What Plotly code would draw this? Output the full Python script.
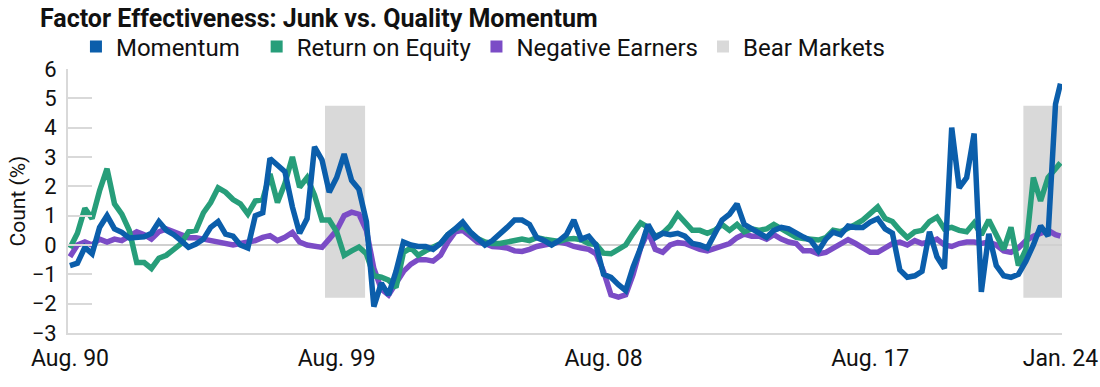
import plotly.graph_objects as go
import pandas as pd

# Quarterly observation dates (Aug 1990 ... Nov 2023) plus final Jan 2024
dates = [d.strftime("%Y-%m-%d") for d in pd.date_range("1990-08-01", periods=134, freq="3MS")] + ["2024-01-01"]

momentum = [-0.7, -0.62, -0.08, -0.3, 0.6, 1.0, 0.55, 0.43, 0.24, 0.24,
            0.28, 0.4, 0.8, 0.5, 0.35, 0.15, -0.08, 0.03, 0.2, 0.6,
            0.8, 0.37, 0.3, 0.0, -0.1, 1.0, 1.1, 2.95, 2.75, 2.5,
            1.3, 0.4, 0.9, 3.35, 2.9, 1.8, 2.3, 3.1, 2.2, 1.9,
            0.8, -2.1, -1.3, -1.7, -0.9, 0.1, 0.0, -0.05, -0.05, -0.15,
            0.05, 0.35, 0.55, 0.78, 0.45, 0.2, 0.0, 0.15, 0.35, 0.6,
            0.85, 0.85, 0.7, 0.25, 0.15, 0.0, 0.15, 0.35, 0.85, 0.2,
            0.3, 0.0, -1.0, -1.1, -1.35, -1.55, -0.75, -0.1, 0.7, 0.25,
            0.4, 0.35, 0.4, 0.3, 0.05, 0.0, -0.1, 0.4, 0.85, 1.05,
            1.4, 0.7, 0.55, 0.45, 0.26, 0.5, 0.6, 0.55, 0.38, 0.27,
            0.15, -0.2, 0.2, 0.44, 0.35, 0.65, 0.6, 0.6, 0.78, 0.9,
            0.55, 0.4, -0.85, -1.1, -1.05, -0.9, 0.45, -0.4, -0.8, 4.0,
            1.95, 2.3, 3.8, -1.6, 0.38, -0.7, -1.05, -1.1, -1.0, -0.55,
            0.0, 0.65, 0.3, 4.8, 5.5]

return_on_equity = [-0.1, 0.4, 1.25, 0.9, 1.85, 2.6, 1.4, 1.05, 0.5, -0.6,
                    -0.6, -0.8, -0.45, -0.35, -0.15, 0.05, 0.45, 0.5, 1.1, 1.45,
                    1.95, 1.8, 1.55, 1.4, 1.06, 1.5, 1.55, 2.42, 1.45, 2.1,
                    3.0, 1.97, 2.3, 1.7, 0.85, 0.85, 0.45, -0.35, -0.2, -0.07,
                    -0.3, -1.05, -1.1, -1.2, -1.45, -0.25, -0.1, -0.35, -0.2, -0.1,
                    0.05, 0.35, 0.55, 0.65, 0.4, 0.22, 0.1, 0.05, 0.05, 0.1,
                    0.12, 0.2, 0.15, 0.25, 0.2, 0.15, 0.12, 0.2, 0.22, 0.18,
                    0.05, 0.02, -0.28, -0.3, -0.15, 0.0, 0.4, 0.75, 0.6, 0.3,
                    0.4, 0.65, 1.05, 0.75, 0.5, 0.5, 0.4, 0.5, 0.7, 0.5,
                    0.7, 0.45, 0.55, 0.5, 0.55, 0.7, 0.55, 0.45, 0.26, 0.22,
                    0.2, 0.17, 0.25, 0.5, 0.45, 0.55, 0.7, 0.85, 1.1, 1.3,
                    0.9, 0.8, 0.5, 0.25, 0.45, 0.5, 0.8, 0.95, 0.55, 0.6,
                    0.5, 0.45, 0.75, 0.35, 0.85, 0.35, -0.15, 0.6, -0.7, -0.15,
                    2.3, 1.5, 2.3, 2.6, 2.8]

negative_earners = [-0.4, 0.0, 0.1, 0.0, 0.2, 0.1, 0.2, 0.15, 0.3, 0.45,
                    0.35, 0.2, 0.45, 0.55, 0.45, 0.35, 0.25, 0.25, 0.2, 0.15,
                    0.1, 0.05, 0.0, 0.05, 0.1, 0.15, 0.26, 0.32, 0.15, 0.26,
                    0.43, 0.1, 0.0, -0.05, -0.08, 0.2, 0.5, 1.0, 1.12, 1.05,
                    0.5, -0.8, -1.5, -1.7, -1.3, -0.9, -0.65, -0.5, -0.5, -0.55,
                    -0.35, 0.1, 0.45, 0.5, 0.3, 0.1, 0.05, -0.05, -0.07, -0.1,
                    -0.2, -0.22, -0.15, -0.05, 0.0, 0.05, 0.1, 0.05, -0.05, -0.1,
                    -0.15, -0.3, -0.9, -1.7, -1.78, -1.7, -1.0, -0.1, 0.45, -0.15,
                    -0.25, 0.0, 0.08, 0.05, -0.05, -0.15, -0.2, -0.12, -0.08, 0.05,
                    0.25, 0.37, 0.3, 0.3, 0.2, 0.35, 0.2, 0.1, 0.05, -0.2,
                    -0.2, -0.3, -0.25, -0.1, 0.0, 0.18, 0.05, -0.1, -0.25, -0.25,
                    -0.1, 0.05, 0.1, 0.0, 0.15, 0.05, 0.1, 0.2, 0.0, -0.05,
                    0.05, 0.1, 0.1, 0.05, 0.1, 0.0, -0.2, -0.25, -0.1, 0.15,
                    0.3, 0.42, 0.5, 0.35, 0.3]

bear_starts = ["1999-03-10", "2022-10-01"]
bear_ends = ["2000-07-16", "2024-01-20"]
bear_low, bear_high = -1.8, 4.75

tick_dates = ["1990-08-01", "1999-08-01", "2008-08-01", "2017-08-01", "2024-01-01"]
tick_labels = ["Aug. 90", "Aug. 99", "Aug. 08", "Aug. 17", "Jan. 24"]

C_MOM = "#0b5eab"
C_ROE = "#279e7a"
C_NEG = "#7b4cc6"
C_BEAR = "#d9d9d9"

fig = go.Figure()

shapes = [dict(type="rect", xref="x", yref="y", x0=s, x1=e, y0=bear_low, y1=bear_high,
               fillcolor=C_BEAR, line=dict(width=0), layer="below")
          for s, e in zip(bear_starts, bear_ends)]

for name, vals, col in [("Negative Earners", negative_earners, C_NEG),
                        ("Return on Equity", return_on_equity, C_ROE),
                        ("Momentum", momentum, C_MOM)]:
    fig.add_trace(go.Scatter(x=dates, y=vals, mode="lines", name=name,
                             line=dict(color=col, width=5.5), showlegend=False))

NB = "\u00a0"
for name, col in [("Momentum" + NB * 2, C_MOM), ("Return on Equity", C_ROE),
                  ("Negative Earners", C_NEG), ("Bear Markets", C_BEAR)]:
    fig.add_trace(go.Scatter(x=[None], y=[None], mode="markers", name=name,
                             marker=dict(symbol="square", size=12, color=col)))

fig.update_layout(
    width=1100, height=387,
    margin=dict(l=68, r=38, t=69, b=54, autoexpand=False),
    paper_bgcolor="white", plot_bgcolor="white",
    font=dict(family="Roboto", size=20, color="#111111"),
    title=dict(text="<b>Factor Effectiveness: Junk vs. Quality Momentum</b>",
               x=40 / 1100, xanchor="left", xref="container",
               y=1 - 18 / 387, yanchor="middle", yref="container",
               font=dict(size=25, color="#111111")),
    legend=dict(orientation="h", x=0.008, xanchor="left", y=(333 - 47) / 264, yanchor="middle",
                font=dict(size=24), itemwidth=30, tracegroupgap=0,
                bgcolor="rgba(0,0,0,0)"),
    shapes=shapes,
    xaxis=dict(type="date", range=["1990-07-08", "2024-01-20"],
               tickvals=tick_dates, ticktext=tick_labels,
               showline=True, linecolor="#d9d9d9", linewidth=2,
               showgrid=False, zeroline=False, ticks="", automargin=False,
               tickfont=dict(size=23), ticklabelstandoff=3),
    yaxis=dict(range=[-3, 6], tickvals=list(range(-3, 7)), automargin=False,
               showline=True, linecolor="#d9d9d9", linewidth=2,
               showgrid=False, zeroline=True, zerolinecolor="#d0d0d0", zerolinewidth=2,
               ticks="inside", ticklen=24, tickcolor="#d9d9d9", tickwidth=2,
               tickfont=dict(size=22), ticklabelstandoff=5,
               title=dict(text="Count (%)", font=dict(size=21), standoff=0)),
)

fig.write_html("out.html", config={"displayModeBar": False},
               post_script="document.body.style.margin='0px';")
